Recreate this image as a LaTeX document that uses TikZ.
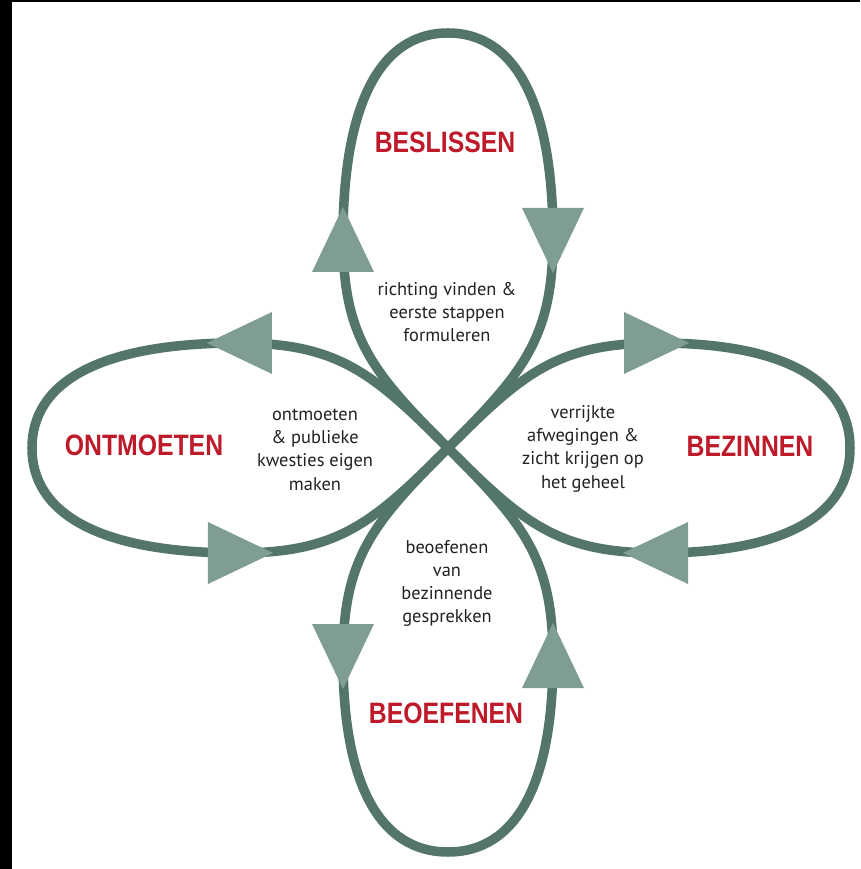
\documentclass[tikz,border=0pt]{standalone}
\usepackage{fontspec}
\newfontfamily\labfont{Liberation Sans}[FakeStretch=0.84]
\newfontfamily\txtfont{PT Sans}
\definecolor{loopcol}{RGB}{84,117,105}
\definecolor{arrcol}{RGB}{127,157,148}
\definecolor{labred}{RGB}{190,26,42}
\definecolor{txtgray}{RGB}{35,33,35}
\tikzset{
  loopline/.style={line width=9.5pt, draw=loopcol, line join=round},
  arrowfill/.style={fill=arrcol},
  lab/.style={anchor=base, text=labred, inner sep=0pt, font=\labfont\bfseries\fontsize{29.5}{29.5}\selectfont},
  txt/.style={align=center, text=txtgray, inner sep=0pt, font=\txtfont\fontsize{18.4}{23.3}\selectfont},
  petal/.pic={
    \draw[loopline] (0,0) .. controls (-75,75) and (-105,110) .. (-105,210)
      .. controls (-105,{210+0.65*(#1-210)}) and (-68,#1) .. (0,#1)
      .. controls (68,#1) and (105,{210+0.65*(#1-210)}) .. (105,210)
      .. controls (105,110) and (75,75) .. (0,0);
    \fill[arrowfill] (-105,241) -- (-136,176) -- (-74,176) -- cycle;
    \fill[arrowfill] (105,175) -- (74,240) -- (136,240) -- cycle;
  }
}
\begin{document}
\begin{tikzpicture}[x=1pt,y=1pt]
\useasboundingbox (-448,-421) rectangle (412,448);
\fill[white] (-448,-421) rectangle (412,448);
\fill[black] (-448,-421) rectangle (-436,448);
\fill[black] (-448,446) rectangle (412,448);

\pic at (0,0) {petal=415};
\pic[rotate=-90] at (0,0) {petal=402};
\pic[yscale=-1] at (0,0) {petal=404};
\pic[xscale=-1,rotate=-90] at (0,0) {petal=416};

\node[lab] (beslissen) at (-3,295) {BESLISSEN};
\node[lab] (ontmoeten) at (-304,-8) {ONTMOETEN};
\node[lab] (bezinnen) at (302,-9) {BEZINNEN};
\node[lab] (beoefenen) at (-2,-275) {BEOEFENEN};

\node[txt] (t1) at (-1,136) {richting vinden \&\\eerste stappen\\formuleren};
\node[txt] (t2) at (-133,-1.5) {ontmoeten\\\& publieke\\kwesties eigen\\maken};
\node[txt] (t3) at (135,-0.5) {verrijkte\\afwegingen \&\\zicht krijgen op\\het geheel};
\node[txt] (t4) at (-1,-135.5) {beoefenen\\van\\bezinnende\\gesprekken};
\end{tikzpicture}
\end{document}
